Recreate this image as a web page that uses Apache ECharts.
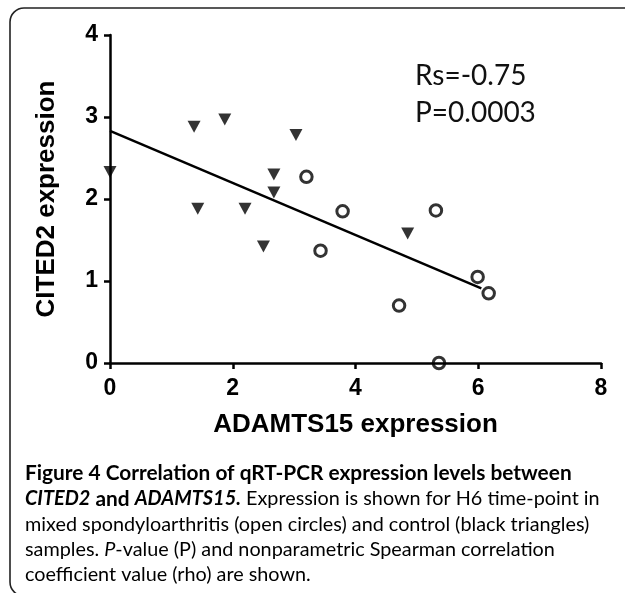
<!DOCTYPE html>
<html>
<head>
<meta charset="utf-8">
<script src="https://cdn.jsdelivr.net/npm/echarts@6/dist/echarts.min.js"></script>
<style>html,body{margin:0;padding:0;background:#fff;}#c{width:625px;height:593px;}</style>
</head>
<body>
<div id="c"></div>
<script>
// Control samples (black triangles)
const ctrlX = [0, 1.37, 1.43, 1.87, 2.2, 2.5, 2.67, 2.67, 3.03, 4.85];
const ctrlY = [2.33, 2.88, 1.88, 2.97, 1.88, 1.42, 2.30, 2.08, 2.78, 1.58];
// Mixed spondyloarthritis samples (open circles)
const spaX = [3.2, 3.43, 3.79, 4.71, 5.31, 5.36, 5.99, 6.17];
const spaY = [2.27, 1.37, 1.85, 0.70, 1.86, 0.0, 1.05, 0.85];
// Regression line end points
const fitX = [0, 6.05];
const fitY = [2.83, 0.91];
const xTicks = [0, 2, 4, 6, 8];
const yTicks = [0, 1, 2, 3, 4];
const statText = ['Rs=-0.75', 'P=0.0003'];
const cap1 = 'Figure 4 Correlation of qRT-PCR expression levels between';
const cap2a = 'CITED2', cap2b = ' and ', cap2c = 'ADAMTS15.', cap2d = ' Expression is shown for H6 time-point in';
const cap3 = 'mixed spondyloarthritis (open circles) and control (black triangles)';
const cap4a = 'samples. ', cap4b = 'P', cap4c = '-value (P) and nonparametric Spearman correlation';
const cap5 = 'coefficient value (rho) are shown.';

const zip = (a, b) => a.map((v, i) => [v, b[i]]);
const axisFont = 'Liberation Sans, Arial, sans-serif';
const capFont = 'Lato, sans-serif';

// fit caption font sizes to the widths of the printed lines
const ctx = document.createElement('canvas').getContext('2d');
function mw(t, st) { ctx.font = st + ' 100px Lato'; return ctx.measureText(t).width / 100; }
const fsB = 547 / mw(cap1, 'bold');
const fsR = 565 / mw(cap3, 'normal');
const wAnd = mw(cap2b, 'bold') * fsB;
const fsBI = (216 - wAnd) / (mw(cap2a, 'italic bold') + mw(cap2c, 'italic bold'));

const chart = echarts.init(document.getElementById('c'));
const bCol = '#231f20', rCol = '#3a3a3a';
const richAll = {
  b: { fontFamily: capFont, fontWeight: 'bold', fontSize: fsB, color: bCol },
  bi: { fontFamily: capFont, fontWeight: 'bold', fontStyle: 'italic', fontSize: fsBI, color: bCol },
  r: { fontFamily: capFont, fontSize: fsR, color: rCol },
  i: { fontFamily: capFont, fontStyle: 'italic', fontSize: fsR, color: rCol }
};
function capLine(y, txt) {
  return { type: 'text', x: 25, y: y, style: { text: txt, textVerticalAlign: 'middle', rich: richAll } };
}

chart.setOption({
  animation: false,
  grid: { left: 110, right: 24, top: 35, bottom: 230 },
  xAxis: {
    type: 'value', min: xTicks[0], max: xTicks[xTicks.length - 1], interval: 2,
    name: 'ADAMTS15 expression', nameLocation: 'middle', nameGap: 49,
    nameTextStyle: { fontFamily: axisFont, fontWeight: 'bold', fontSize: 26, color: '#000' },
    axisLine: { lineStyle: { color: '#000', width: 2.5 } },
    axisTick: { show: true, length: 6, lineStyle: { color: '#000', width: 2.5 } },
    axisLabel: { margin: 14, fontFamily: axisFont, fontWeight: 'bold', fontSize: 23, color: '#000' },
    splitLine: { show: false }
  },
  yAxis: {
    type: 'value', min: yTicks[0], max: yTicks[yTicks.length - 1], interval: 1,
    name: 'CITED2 expression', nameLocation: 'middle', nameGap: 50, nameRotate: 90,
    nameTextStyle: { fontFamily: axisFont, fontWeight: 'bold', fontSize: 26, color: '#000' },
    axisLine: { show: true, lineStyle: { color: '#000', width: 2.5 } },
    axisTick: { show: true, length: 6, lineStyle: { color: '#000', width: 2.5 } },
    axisLabel: { margin: 12, fontFamily: axisFont, fontWeight: 'bold', fontSize: 23, color: '#000' },
    splitLine: { show: false }
  },
  series: [
    {
      type: 'line', data: zip(fitX, fitY), symbol: 'none',
      lineStyle: { color: '#000', width: 2.5 }, z: 2
    },
    {
      type: 'scatter', data: zip(ctrlX, ctrlY), symbol: 'triangle', symbolRotate: 180,
      symbolSize: [13, 12], itemStyle: { color: '#000' }, z: 3
    },
    {
      type: 'scatter', data: zip(spaX, spaY), symbol: 'circle', symbolSize: 11.5,
      itemStyle: { color: 'rgba(0,0,0,0)', borderColor: '#000', borderWidth: 3 }, z: 3
    }
  ],
  graphic: [
    {
      type: 'rect', shape: { x: 10, y: 8, width: 640, height: 588, r: 14 },
      style: { fill: 'none', stroke: '#222', lineWidth: 1.6 }, silent: true, z: 0
    },
    { type: 'text', x: 415, y: 76, style: { text: statText[0], font: '28px ' + capFont, fill: '#111', textVerticalAlign: 'middle' } },
    { type: 'text', x: 415, y: 113, style: { text: statText[1], font: '28px ' + capFont, fill: '#111', textVerticalAlign: 'middle' } },
    capLine(473, '{b|' + cap1 + '}'),
    capLine(499, '{bi|' + cap2a + '}{b|' + cap2b + '}{bi|' + cap2c + '}{r|' + cap2d + '}'),
    capLine(525, '{r|' + cap3 + '}'),
    capLine(550, '{r|' + cap4a + '}{i|' + cap4b + '}{r|' + cap4c + '}'),
    capLine(575, '{r|' + cap5 + '}')
  ]
});
</script>
</body>
</html>
